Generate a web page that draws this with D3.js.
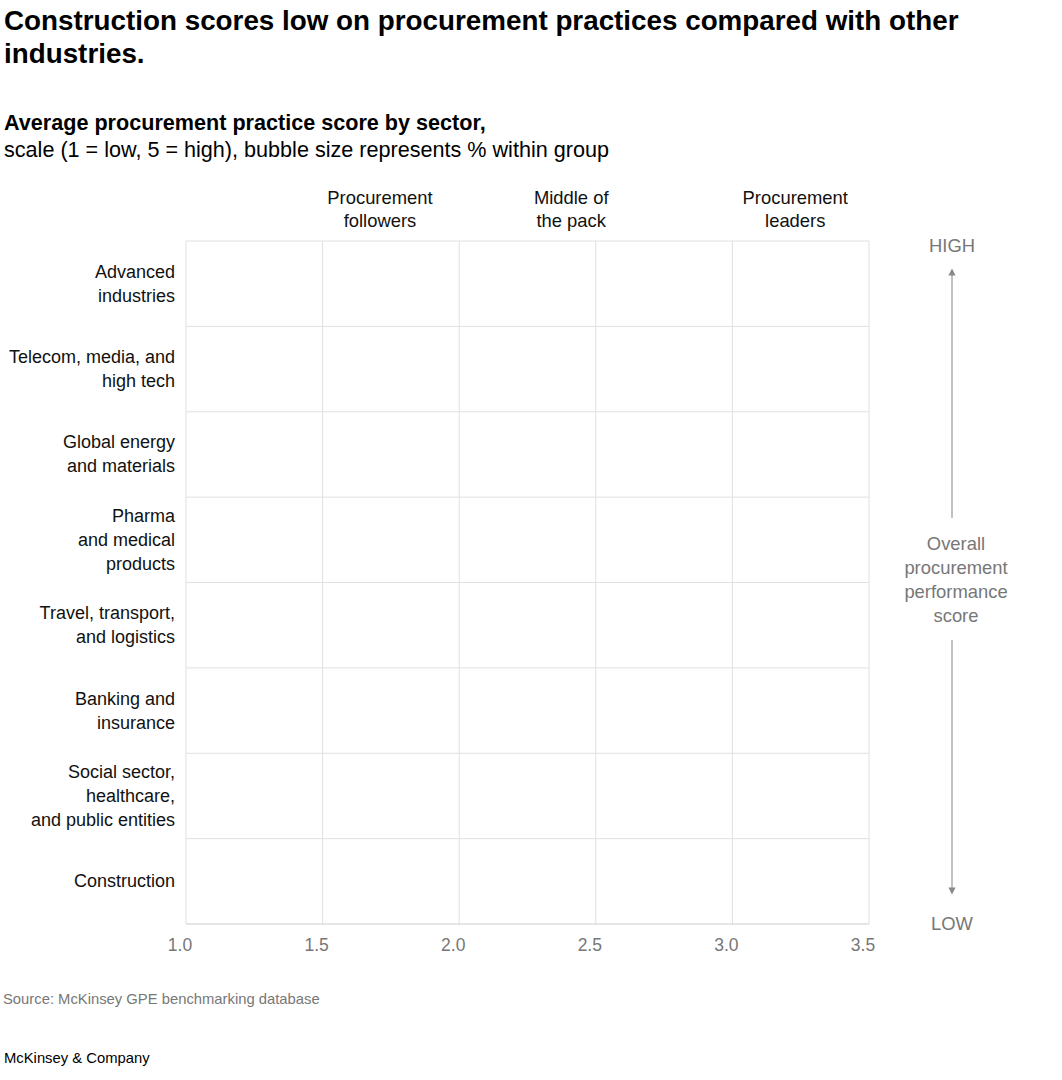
<!DOCTYPE html>
<html lang="en">
<head>
    <meta charset="UTF-8">
    <title>Procurement practice score by sector</title>
    <script src="https://d3js.org/d3.v7.min.js"></script>
    <style>
        body { margin: 0; background: #fff; }
        text { font-family: "Liberation Sans", Arial, sans-serif; }
    </style>
</head>
<body>
    <div id="chart"></div>

    <script>
        var width = 1062;
        var height = 1080;

        // sectors, top to bottom
        const sectors = [
            ["Advanced", "industries"],
            ["Telecom, media, and", "high tech"],
            ["Global energy", "and materials"],
            ["Pharma", "and medical", "products"],
            ["Travel, transport,", "and logistics"],
            ["Banking and", "insurance"],
            ["Social sector,", "healthcare,", "and public entities"],
            ["Construction"]
        ];
        const xTicks = [1.0, 1.5, 2.0, 2.5, 3.0, 3.5];
        const groups = [
            { x: 1.71, label: ["Procurement", "followers"] },
            { x: 2.41, label: ["Middle of", "the pack"] },
            { x: 3.23, label: ["Procurement", "leaders"] }
        ];

        const margin = { left: 186, right: 193, top: 241, bottom: 156 };

        const svg = d3.select("#chart").append("svg")
            .attr("width", width)
            .attr("height", height);

        const x = d3.scaleLinear()
            .domain([1.0, 3.5])
            .range([margin.left, width - margin.right]);

        const y = d3.scaleBand()
            .domain(sectors.map(d => d.join(" ")))
            .range([margin.top, height - margin.bottom]);

        // titles
        svg.append("text").attr("x", 4).attr("y", 30)
            .attr("font-size", 27.8).attr("font-weight", "bold")
            .text("Construction scores low on procurement practices compared with other");
        svg.append("text").attr("x", 4).attr("y", 63)
            .attr("font-size", 27.8).attr("font-weight", "bold")
            .text("industries.");
        svg.append("text").attr("x", 4).attr("y", 130)
            .attr("font-size", 21.6).attr("font-weight", "bold")
            .text("Average procurement practice score by sector,");
        svg.append("text").attr("x", 4).attr("y", 157)
            .attr("font-size", 21.6)
            .text("scale (1 = low, 5 = high), bubble size represents % within group");

        // grid
        const grid = svg.append("g");
        grid.selectAll(".vline").data(xTicks).join("line")
            .attr("x1", d => x(d)).attr("x2", d => x(d))
            .attr("y1", y.range()[0]).attr("y2", y.range()[1])
            .attr("stroke", "#e0e0e0").attr("stroke-width", 1);
        const rowEdges = y.domain().map(d => y(d)).concat([y.range()[1]]);
        grid.selectAll(".hline").data(rowEdges).join("line")
            .attr("x1", x.range()[0]).attr("x2", x.range()[1])
            .attr("y1", d => d).attr("y2", d => d)
            .attr("stroke", (d, i) => i == rowEdges.length - 1 ? "#cccccc" : "#e0e0e0")
            .attr("stroke-width", 1);

        // x tick labels
        svg.selectAll(".xtick").data(xTicks).join("text")
            .attr("x", d => x(d) - 6)
            .attr("y", 951)
            .attr("text-anchor", "middle")
            .attr("font-size", 17.5)
            .attr("fill", "#777")
            .text(d => d.toFixed(1));

        // sector labels
        const lineH = 24;
        sectors.forEach(lines => {
            const cy = y(lines.join(" ")) + y.bandwidth() / 2;
            const t = svg.append("text")
                .attr("text-anchor", "end")
                .attr("font-size", 18)
                .attr("fill", "#111");
            lines.forEach((s, i) => {
                t.append("tspan")
                    .attr("x", 175)
                    .attr("y", cy + 6 + (i - (lines.length - 1) / 2) * lineH)
                    .text(s);
            });
        });

        // group headers
        groups.forEach(g => {
            const t = svg.append("text")
                .attr("text-anchor", "middle")
                .attr("font-size", 18.4)
                .attr("fill", "#111");
            g.label.forEach((s, i) => {
                t.append("tspan").attr("x", x(g.x)).attr("y", 204 + i * 23).text(s);
            });
        });

        // right-hand score axis
        const ax = 952;
        svg.append("defs").append("marker")
            .attr("id", "arr")
            .attr("viewBox", "0 0 10 10")
            .attr("refX", 5).attr("refY", 5)
            .attr("markerWidth", 6).attr("markerHeight", 6)
            .attr("orient", "auto-start-reverse")
            .append("path").attr("d", "M0,0L10,5L0,10Z").attr("fill", "#888");

        svg.append("text").attr("x", ax).attr("y", 252)
            .attr("text-anchor", "middle").attr("font-size", 18.4).attr("fill", "#777")
            .text("HIGH");
        svg.append("text").attr("x", ax).attr("y", 930)
            .attr("text-anchor", "middle").attr("font-size", 18.4).attr("fill", "#777")
            .text("LOW");
        svg.append("line")
            .attr("x1", ax).attr("x2", ax).attr("y1", 518).attr("y2", 272)
            .attr("stroke", "#999").attr("stroke-width", 1.2)
            .attr("marker-end", "url(#arr)");
        svg.append("line")
            .attr("x1", ax).attr("x2", ax).attr("y1", 640).attr("y2", 891)
            .attr("stroke", "#999").attr("stroke-width", 1.2)
            .attr("marker-end", "url(#arr)");
        const sc = svg.append("text")
            .attr("text-anchor", "middle").attr("font-size", 18.4).attr("fill", "#777");
        ["Overall", "procurement", "performance", "score"].forEach((s, i) => {
            sc.append("tspan").attr("x", 956).attr("y", 550 + i * 24).text(s);
        });

        // footer
        svg.append("text").attr("x", 3).attr("y", 1004)
            .attr("font-size", 14.8).attr("fill", "#777")
            .text("Source: McKinsey GPE benchmarking database");
        svg.append("text").attr("x", 4).attr("y", 1063)
            .attr("font-size", 14.8).attr("fill", "#000")
            .text("McKinsey & Company");
    </script>
</body>
</html>
